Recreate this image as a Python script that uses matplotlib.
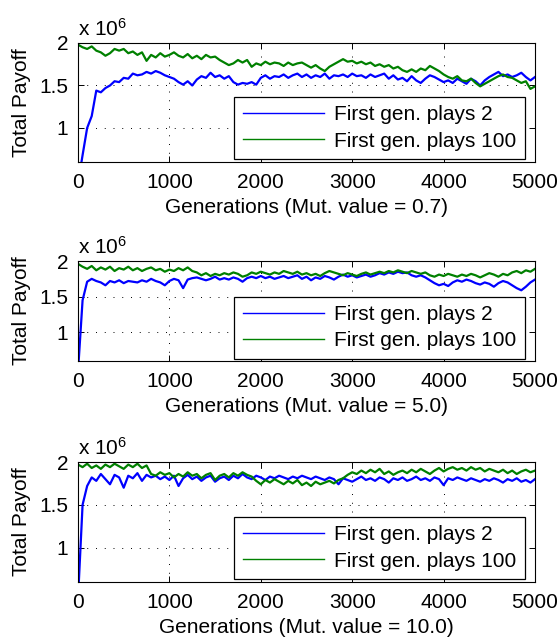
import matplotlib
matplotlib.use("Agg")
import matplotlib.pyplot as plt
import numpy as np

plt.rcParams['font.family'] = ['Liberation Sans', 'DejaVu Sans']
plt.rcParams['mathtext.fontset'] = 'custom'
plt.rcParams['mathtext.rm'] = 'Liberation Sans'
plt.rcParams['mathtext.it'] = 'Liberation Sans'

# generations sampled every 50
generations = np.arange(0, 5001, 50)

# payoff values, in units of 1e6
mut07_plays2 = [
    0.35, 0.68, 1.00, 1.14, 1.44, 1.42, 1.47, 1.50, 1.55, 1.54,
    1.59, 1.58, 1.64, 1.62, 1.63, 1.66, 1.64, 1.67, 1.65, 1.62,
    1.60, 1.58, 1.54, 1.51, 1.55, 1.50, 1.57, 1.61, 1.59, 1.65,
    1.60, 1.62, 1.58, 1.61, 1.54, 1.51, 1.53, 1.52, 1.54, 1.51,
    1.59, 1.62, 1.58, 1.61, 1.60, 1.63, 1.59, 1.62, 1.64, 1.60,
    1.63, 1.59, 1.62, 1.60, 1.64, 1.58, 1.62, 1.61, 1.63, 1.60,
    1.64, 1.61, 1.62, 1.59, 1.63, 1.60, 1.62, 1.64, 1.58, 1.62,
    1.57, 1.59, 1.55, 1.61, 1.56, 1.53, 1.58, 1.62, 1.60, 1.57,
    1.54, 1.56, 1.53, 1.58, 1.55, 1.52, 1.58, 1.55, 1.50, 1.56,
    1.60, 1.63, 1.66, 1.61, 1.63, 1.60, 1.62, 1.65, 1.60, 1.56,
    1.60]
mut07_plays100 = [
    1.98, 1.95, 1.93, 1.96, 1.91, 1.89, 1.85, 1.88, 1.93, 1.91,
    1.93, 1.88, 1.90, 1.86, 1.89, 1.79, 1.86, 1.83, 1.88, 1.84,
    1.86, 1.89, 1.85, 1.83, 1.87, 1.82, 1.85, 1.81, 1.86, 1.83,
    1.84, 1.80, 1.77, 1.74, 1.76, 1.80, 1.77, 1.80, 1.72, 1.76,
    1.74, 1.78, 1.75, 1.77, 1.76, 1.73, 1.77, 1.74, 1.76, 1.77,
    1.74, 1.71, 1.74, 1.70, 1.67, 1.72, 1.75, 1.78, 1.81, 1.78,
    1.79, 1.76, 1.78, 1.75, 1.77, 1.73, 1.75, 1.72, 1.74, 1.70,
    1.72, 1.68, 1.66, 1.69, 1.66, 1.70, 1.68, 1.73, 1.70, 1.67,
    1.63, 1.60, 1.58, 1.61, 1.56, 1.55, 1.58, 1.53, 1.49, 1.52,
    1.55, 1.58, 1.61, 1.63, 1.60, 1.59, 1.56, 1.53, 1.55, 1.46,
    1.49]

mut50_plays2 = [
    0.45, 1.45, 1.71, 1.75, 1.72, 1.70, 1.66, 1.72, 1.70, 1.73,
    1.69, 1.72, 1.71, 1.70, 1.73, 1.71, 1.75, 1.72, 1.70, 1.66,
    1.72, 1.75, 1.73, 1.62, 1.74, 1.76, 1.77, 1.75, 1.73, 1.75,
    1.78, 1.74, 1.76, 1.74, 1.77, 1.75, 1.71, 1.76, 1.78, 1.76,
    1.79, 1.76, 1.78, 1.75, 1.77, 1.79, 1.76, 1.78, 1.80, 1.75,
    1.78, 1.73, 1.77, 1.75, 1.79, 1.77, 1.74, 1.78, 1.81, 1.78,
    1.80, 1.77, 1.79, 1.81, 1.78, 1.80, 1.83, 1.81, 1.84, 1.82,
    1.85, 1.83, 1.84, 1.80, 1.78, 1.80, 1.77, 1.73, 1.69, 1.66,
    1.68, 1.65, 1.70, 1.73, 1.71, 1.74, 1.72, 1.69, 1.67, 1.70,
    1.68, 1.64, 1.69, 1.72, 1.70, 1.66, 1.62, 1.59, 1.64, 1.70,
    1.74]
mut50_plays100 = [
    1.96, 1.92, 1.89, 1.93, 1.87, 1.91, 1.88, 1.92, 1.86, 1.90,
    1.88, 1.92, 1.87, 1.90, 1.86, 1.89, 1.91, 1.87, 1.89, 1.85,
    1.88, 1.86, 1.90, 1.87, 1.91, 1.86, 1.84, 1.80, 1.83, 1.79,
    1.82, 1.80, 1.83, 1.81, 1.84, 1.82, 1.78, 1.80, 1.84, 1.82,
    1.85, 1.83, 1.81, 1.84, 1.82, 1.86, 1.84, 1.82, 1.85, 1.81,
    1.83, 1.80, 1.82, 1.79, 1.83, 1.86, 1.84, 1.82, 1.80, 1.83,
    1.81, 1.79, 1.82, 1.84, 1.81, 1.83, 1.85, 1.83, 1.86, 1.84,
    1.87, 1.85, 1.83, 1.86, 1.84, 1.82, 1.84, 1.80, 1.78, 1.81,
    1.79, 1.82, 1.80, 1.78, 1.81, 1.79, 1.82, 1.80, 1.77, 1.80,
    1.83, 1.81, 1.78, 1.82, 1.80, 1.84, 1.86, 1.83, 1.87, 1.85,
    1.89]

mut100_plays2 = [
    0.40, 1.50, 1.72, 1.82, 1.78, 1.86, 1.80, 1.74, 1.85, 1.82,
    1.70, 1.84, 1.81, 1.87, 1.78, 1.85, 1.82, 1.84, 1.80, 1.83,
    1.79, 1.84, 1.72, 1.81, 1.85, 1.80, 1.83, 1.78, 1.82, 1.84,
    1.77, 1.81, 1.83, 1.79, 1.84, 1.81, 1.86, 1.82, 1.80, 1.84,
    1.82, 1.79, 1.83, 1.81, 1.84, 1.82, 1.80, 1.83, 1.81, 1.84,
    1.82, 1.80, 1.83, 1.81, 1.79, 1.82, 1.80, 1.74, 1.81, 1.79,
    1.77, 1.80, 1.83, 1.79, 1.81, 1.78, 1.82, 1.80, 1.76, 1.81,
    1.79, 1.82, 1.78, 1.80, 1.83, 1.79, 1.81, 1.78, 1.82, 1.80,
    1.73, 1.81, 1.79, 1.82, 1.80, 1.78, 1.81, 1.79, 1.77, 1.80,
    1.78, 1.81, 1.79, 1.76, 1.80, 1.78, 1.81, 1.77, 1.79, 1.76,
    1.80]
mut100_plays100 = [
    1.97, 1.94, 1.98, 1.93, 1.96, 1.92, 1.97, 1.94, 1.98, 1.95,
    1.92, 1.97, 1.94, 1.98, 1.93, 1.96, 1.86, 1.84, 1.88, 1.85,
    1.87, 1.82, 1.86, 1.83, 1.88, 1.84, 1.86, 1.81, 1.85, 1.87,
    1.79, 1.84, 1.86, 1.82, 1.87, 1.84, 1.88, 1.85, 1.83, 1.78,
    1.74, 1.79, 1.76, 1.80, 1.77, 1.74, 1.78, 1.75, 1.79, 1.73,
    1.76, 1.72, 1.77, 1.74, 1.76, 1.78, 1.75, 1.79, 1.81, 1.85,
    1.88, 1.86, 1.90, 1.87, 1.91, 1.88, 1.92, 1.86, 1.89, 1.85,
    1.88, 1.90, 1.87, 1.91, 1.88, 1.92, 1.89, 1.86, 1.90, 1.93,
    1.89, 1.92, 1.94, 1.91, 1.93, 1.90, 1.94, 1.91, 1.93, 1.89,
    1.92, 1.90, 1.88, 1.91, 1.87, 1.90, 1.86, 1.89, 1.91, 1.88,
    1.90]

mut_values = ["0.7", "5.0", "10.0"]
series = [(mut07_plays2, mut07_plays100),
          (mut50_plays2, mut50_plays100),
          (mut100_plays2, mut100_plays100)]
labels = ["First gen. plays 2", "First gen. plays 100"]

W, H = 557, 641
fig = plt.figure(figsize=(W / 100, H / 100), dpi=100)

# axes boxes in pixels: (top, bottom)
boxes = [(43, 162), (261, 361), (462, 582)]
left, right = 78, 535
fs = 15

for (top, bot), (s2, s100), mv in zip(boxes, series, mut_values):
    ax = fig.add_axes([left / W, 1 - bot / H, (right - left) / W, (bot - top) / H])
    ax.plot(generations, s2, color=(0, 0, 1), lw=1.6, label=labels[0])
    ax.plot(generations, s100, color=(0, 0.5, 0), lw=1.6, label=labels[1])
    ax.set_xlim(0, 5000)
    ax.set_ylim(0.6, 2.0)
    ax.set_xticks(range(0, 5001, 1000))
    ax.set_yticks([1, 1.5, 2])
    ax.set_yticklabels(["1", "1.5", "2"])
    ax.grid(True, color='k', linestyle=(0, (1, 8)), linewidth=0.7)
    ax.tick_params(direction='in', top=True, right=True, length=4,
                   labelsize=fs, width=0.7)
    ax.tick_params(axis='x', pad=8)
    ax.tick_params(axis='y', pad=7)
    for sp in ax.spines.values():
        sp.set_linewidth(0.8)
    ax.set_xlabel("Generations (Mut. value = %s)" % mv, fontsize=fs, labelpad=4)
    ax.set_ylabel("Total Payoff", fontsize=fs, labelpad=6)
    ax.text(0.0, 1.03, r"x 10$^6$", transform=ax.transAxes, fontsize=fs,
            ha='left', va='bottom')
    leg = ax.legend(loc='lower right', bbox_to_anchor=(1 - 10 / 457, 0.025),
                    borderaxespad=0, fontsize=fs, handlelength=3.9,
                    handletextpad=0.5, labelspacing=0.35, borderpad=0.4,
                    fancybox=False, framealpha=1, edgecolor='k')
    leg.get_frame().set_linewidth(0.9)
    for ln in leg.get_lines():
        ln.set_linewidth(1.0)

fig.savefig("out.png", dpi=100)
